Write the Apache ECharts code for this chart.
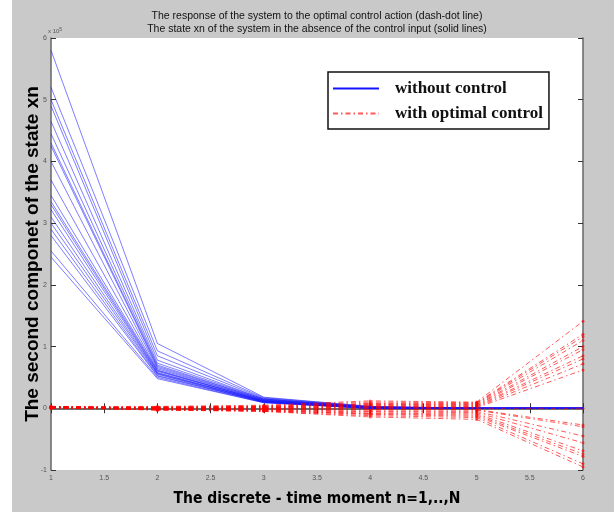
<!DOCTYPE html>
<html>
<head>
<meta charset="utf-8">
<script src="https://cdn.jsdelivr.net/npm/echarts@6/dist/echarts.min.js"></script>
<style>
  html, body { margin: 0; padding: 0; background: #fff; }
  #chart_state { width: 614px; height: 512px; }
</style>
</head>
<body>
<div id="chart_state"></div>
<script>
// time steps n = 1..6
const steps = [1, 2, 3, 4, 5, 6];

// second component of xn without control (x 10^5), one entry per trajectory
const freeAt1 = [5.8, 5.2, 5.0, 4.9, 4.65, 4.45, 4.3, 4.25, 4.0, 3.7, 3.45, 3.35, 3.3, 3.22, 3.1, 3.0, 2.9, 2.8, 2.55, 2.45];
const freeAt2 = [1.05, 0.93, 0.85, 0.78, 0.73, 0.7, 0.68, 0.66, 0.64, 0.62, 0.61, 0.6, 0.58, 0.57, 0.56, 0.55, 0.53, 0.52, 0.5, 0.48];
const freeAt3 = [0.18, 0.17, 0.16, 0.15, 0.15, 0.14, 0.14, 0.13, 0.13, 0.12, 0.12, 0.12, 0.11, 0.11, 0.11, 0.1, 0.1, 0.1, 0.09, 0.09];
const freeAt4 = [0.03, 0.03, 0.02, 0.02, 0.02, 0.02, 0.01, 0.01, 0.01, 0.01, 0.01, 0.01, 0.01, 0.0, 0.0, 0.0, 0.0, 0.0, 0.0, 0.0];
const freeAt5 = [0, 0, 0, 0, 0, 0, 0, 0, 0, 0, 0, 0, 0, 0, 0, 0, 0, 0, 0, 0];
const freeAt6 = [0, 0, 0, 0, 0, 0, 0, 0, 0, 0, 0, 0, 0, 0, 0, 0, 0, 0, 0, 0];

// same component with optimal control
const ctrlAt1 = [0.03, 0.02, 0.02, 0.01, 0.03, 0.02, 0.01, 0.02, 0.0, 0.01, 0.02, 0.01, 0.03, 0.02, 0.0, 0.01, 0.02, 0.01, 0.0, 0.02];
const ctrlAt2 = [0.03, 0.02, 0.01, 0.02, 0.0, 0.01, 0.02, 0.0, -0.01, 0.01, 0.0, -0.01, 0.0, -0.02, -0.01, -0.02, -0.03, -0.01, -0.02, -0.03];
const ctrlAt3 = [0.05, 0.04, 0.03, 0.03, 0.02, 0.02, 0.01, 0.01, 0.0, 0.0, 0.0, -0.01, -0.02, -0.02, -0.03, -0.03, -0.04, -0.04, -0.05, -0.05];
const ctrlAt4 = [0.12, 0.1, 0.08, 0.07, 0.06, 0.05, 0.04, 0.03, 0.02, 0.01, 0.0, -0.02, -0.03, -0.05, -0.06, -0.08, -0.09, -0.1, -0.12, -0.14];
const ctrlAt5 = [0.1, 0.09, 0.08, 0.07, 0.06, 0.05, 0.04, 0.03, 0.02, 0.01, 0.0, -0.02, -0.03, -0.05, -0.07, -0.09, -0.11, -0.13, -0.15, -0.18];
const ctrlAt6 = [1.41, 1.2, 1.16, 1.1, 1.0, 0.95, 0.85, 0.8, 0.72, 0.62, 0.0, -0.27, -0.3, -0.45, -0.56, -0.69, -0.74, -0.78, -0.9, -0.95];

const xTicks = { min: 1, max: 6, interval: 0.5 };
const yTicks = { min: -1, max: 6, interval: 1 };

function initChart() {
  let myChart = echarts.init(document.getElementById("chart_state"));

  const freeCols = [freeAt1, freeAt2, freeAt3, freeAt4, freeAt5, freeAt6];
  const ctrlCols = [ctrlAt1, ctrlAt2, ctrlAt3, ctrlAt4, ctrlAt5, ctrlAt6];
  const redDash = [5, 3, 1.5, 3];

  const series = [];
  // solid lines, no control
  freeAt1.forEach((_, i) => {
    series.push({
      name: "without control",
      type: "line",
      symbol: "none",
      silent: true,
      lineStyle: { color: "rgba(20,20,255,0.55)", width: 1 },
      itemStyle: { color: "rgb(20,20,255)" },
      data: steps.map((n, k) => [n, freeCols[k][i]]),
    });
  });
  // dash-dot lines, optimal control
  const markerPts = [];
  ctrlAt1.forEach((_, i) => {
    const pts = steps.map((n, k) => [n, ctrlCols[k][i]]);
    markerPts.push(...pts);
    series.push({
      name: "with optimal control",
      type: "line",
      symbol: "none",
      silent: true,
      lineStyle: { color: "rgba(255,0,0,0.65)", width: 1, type: redDash },
      itemStyle: { color: "rgb(255,0,0)" },
      data: pts,
    });
  });
  series.push({
    type: "scatter",
    symbol: "circle",
    symbolSize: 3,
    silent: true,
    itemStyle: { color: "rgba(255,0,0,0.75)" },
    data: markerPts,
  });

  const axisLine = { show: true, lineStyle: { color: "#666", width: 1.5 } };
  const axisTick = { show: true, inside: true, length: 5, lineStyle: { color: "#333" } };
  const tickFont = { color: "#555", fontSize: 7, fontFamily: "Liberation Sans" };

  const option = {
    backgroundColor: "#fff",
    animation: false,
    graphic: [
      // grey figure backdrop
      { type: "rect", z: -10, shape: { x: 12, y: 0, width: 602, height: 512 }, style: { fill: "#c9c9c9" } },
      {
        type: "text", left: 48, top: 27,
        style: {
          text: "x 10{sup|5}",
          fill: "#555",
          font: "6px Liberation Sans",
          rich: { sup: { fontSize: 5, verticalAlign: "top", padding: [0, 0, 4, 0] } },
        },
      },
    ],
    title: {
      text: "The response of the system to the optimal control action (dash-dot line)\nThe state xn of the system in the absence of the control input (solid lines)",
      left: 312,
      textAlign: "center",
      top: 5,
      textStyle: { fontSize: 10.5, fontWeight: "normal", color: "#111", fontFamily: "Liberation Sans", lineHeight: 13 },
    },
    legend: {
      data: [
        { name: "without control", itemStyle: { opacity: 0 }, lineStyle: { color: "#1414ff", width: 2, opacity: 1 } },
        { name: "with optimal control", itemStyle: { opacity: 0 } },
      ],
      orient: "vertical",
      left: 328,
      top: 72,
      itemWidth: 46,
      itemHeight: 16,
      itemGap: 8,
      padding: [8, 6, 7, 4],
      borderColor: "#111",
      borderWidth: 1.5,
      backgroundColor: "#fff",
      selectedMode: false,
      textStyle: {
        fontFamily: "Liberation Serif",
        fontWeight: "bold",
        fontSize: 17,
        color: "#111",
        padding: [0, 0, 0, 11],
      },
    },
    grid: {
      left: 51, right: 31, top: 38, bottom: 39,
      show: true, backgroundColor: "#fff", borderWidth: 0,
    },
    xAxis: [
      {
        type: "value", ...xTicks,
        name: "The discrete - time moment n=1,..,N",
        nameLocation: "middle",
        nameGap: 21,
        nameMoveOverlap: false,
        nameTextStyle: { fontSize: 15.5, fontWeight: "bold", color: "#000", fontFamily: "DejaVu Sans Condensed, Liberation Sans" },
        axisLine, axisTick,
        axisLabel: { ...tickFont, margin: 5 },
        splitLine: { show: false },
      },
      {
        type: "value", ...xTicks, position: "top",
        axisLine, axisTick, axisLabel: { show: false }, splitLine: { show: false },
      },
    ],
    yAxis: [
      {
        type: "value", ...yTicks,
        name: "The second componet of the state xn",
        nameLocation: "middle",
        nameGap: 9,
        nameMoveOverlap: false,
        nameTextStyle: { fontSize: 19, fontWeight: "bold", color: "#000", fontFamily: "Liberation Sans" },
        axisLine, axisTick,
        axisLabel: { ...tickFont, margin: 4 },
        splitLine: { show: false },
      },
      {
        type: "value", ...yTicks, position: "right",
        axisLine, axisTick, axisLabel: { show: false }, splitLine: { show: false },
      },
    ],
    series: series,
  };

  myChart.setOption(option);
}

initChart();
</script>
</body>
</html>
